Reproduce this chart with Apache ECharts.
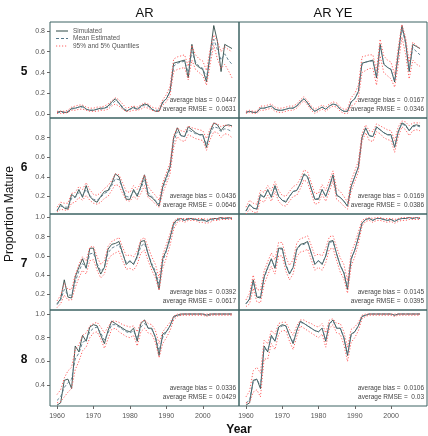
<!DOCTYPE html>
<html><head><meta charset="utf-8">
<script src="https://cdn.jsdelivr.net/npm/echarts@6/dist/echarts.min.js"></script>
<style>html,body{margin:0;padding:0;background:#fff}#c{width:428px;height:436px}</style>
</head><body><div id="c"></div>
<script>
const years = [1960,1961,1962,1963,1964,1965,1966,1967,1968,1969,1970,1971,1972,1973,1974,1975,1976,1977,1978,1979,1980,1981,1982,1983,1984,1985,1986,1987,1988,1989,1990,1991,1992,1993,1994,1995,1996,1997,1998,1999,2000,2001,2002,2003,2004,2005,2006,2007,2008];
const rowNames = ['5','6','7','8'];
const colNames = ['AR','AR YE'];
const legendNames = ['Simulated','Mean Estimated','95% and 5% Quantiles'];
const xTicks = [1960,1970,1980,1990,2000];
const yTicks = [[0,0.2,0.4,0.6,0.8],[0.2,0.4,0.6,0.8],[0.2,0.4,0.6,0.8,1.0],[0.4,0.6,0.8,1.0]];
const yRange = [[-0.034,0.884],[0.02,1.0],[0.035,1.037],[0.223,1.034]];

// Simulated (same in both columns)
const sim5 = [0.02,0.03,0.02,0.02,0.06,0.06,0.07,0.08,0.05,0.04, 0.04,0.05,0.06,0.06,0.08,0.12,0.15,0.11,0.06,0.03, 0.05,0.07,0.05,0.08,0.10,0.09,0.05,0.03,0.03,0.12, 0.15,0.22,0.49,0.50,0.51,0.52,0.35,0.67,0.48,0.45, 0.43,0.31,0.58,0.85,0.70,0.41,0.67,0.65,0.63];
const sim6 = [0.05,0.12,0.08,0.07,0.22,0.19,0.27,0.19,0.31,0.20, 0.16,0.14,0.20,0.25,0.26,0.33,0.43,0.40,0.28,0.17, 0.17,0.27,0.20,0.30,0.42,0.21,0.19,0.15,0.10,0.30, 0.40,0.50,0.80,0.90,0.82,0.81,0.91,0.88,0.85,0.83, 0.83,0.70,0.86,0.95,0.93,0.87,0.92,0.93,0.92];
const sim7 = [0.10,0.15,0.35,0.17,0.16,0.38,0.48,0.57,0.47,0.68, 0.68,0.50,0.41,0.48,0.67,0.72,0.73,0.75,0.63,0.51, 0.55,0.51,0.60,0.75,0.76,0.62,0.50,0.42,0.25,0.57, 0.66,0.79,0.94,0.98,0.99,0.97,0.99,0.99,0.98,0.97, 0.98,0.96,0.98,0.99,0.99,1.00,0.99,1.00,0.99];
const sim8 = [0.23,0.25,0.44,0.45,0.37,0.73,0.68,0.82,0.77,0.89, 0.91,0.90,0.82,0.75,0.86,0.94,0.92,0.90,0.88,0.86, 0.85,0.88,0.77,0.92,0.95,0.88,0.88,0.80,0.65,0.83, 0.85,0.90,0.98,0.99,1.00,1.00,1.00,1.00,1.00,1.00, 1.00,0.99,1.00,1.00,1.00,1.00,1.00,1.00,1.00];

// AR model: mean estimate, 95% and 5% quantiles
const ar5Mean = [0.02,0.02,0.02,0.03,0.05,0.06,0.07,0.07,0.05,0.04, 0.04,0.05,0.05,0.06,0.07,0.10,0.13,0.11,0.07,0.04, 0.05,0.06,0.05,0.07,0.09,0.08,0.05,0.04,0.04,0.11, 0.15,0.22,0.46,0.49,0.50,0.51,0.40,0.60,0.50,0.46, 0.44,0.35,0.55,0.72,0.62,0.52,0.58,0.52,0.48];
const ar5Hi = [0.03,0.03,0.03,0.04,0.07,0.08,0.09,0.09,0.07,0.06, 0.06,0.07,0.07,0.08,0.10,0.13,0.16,0.14,0.10,0.06, 0.07,0.08,0.07,0.09,0.11,0.10,0.07,0.06,0.06,0.14, 0.19,0.27,0.53,0.55,0.56,0.57,0.46,0.66,0.57,0.53, 0.51,0.42,0.62,0.76,0.70,0.60,0.65,0.62,0.60];
const ar5Lo = [0.01,0.01,0.01,0.02,0.04,0.04,0.05,0.05,0.04,0.03, 0.03,0.03,0.04,0.04,0.05,0.08,0.10,0.08,0.05,0.03, 0.03,0.04,0.04,0.05,0.07,0.06,0.04,0.03,0.03,0.09, 0.12,0.18,0.41,0.43,0.44,0.45,0.33,0.52,0.43,0.40, 0.37,0.28,0.48,0.66,0.53,0.44,0.48,0.42,0.35];
const ar6Mean = [0.06,0.10,0.09,0.09,0.18,0.19,0.24,0.21,0.27,0.21, 0.17,0.16,0.19,0.23,0.25,0.31,0.38,0.37,0.28,0.20, 0.19,0.25,0.22,0.28,0.37,0.24,0.20,0.16,0.12,0.28, 0.38,0.48,0.76,0.86,0.82,0.81,0.88,0.86,0.84,0.83, 0.82,0.73,0.84,0.91,0.90,0.86,0.89,0.88,0.86];
const ar6Hi = [0.09,0.14,0.13,0.13,0.23,0.24,0.30,0.27,0.34,0.27, 0.22,0.21,0.24,0.28,0.31,0.36,0.43,0.42,0.34,0.25, 0.24,0.31,0.27,0.34,0.42,0.30,0.25,0.21,0.16,0.34, 0.44,0.54,0.82,0.90,0.87,0.86,0.92,0.90,0.89,0.88, 0.87,0.79,0.89,0.95,0.94,0.91,0.93,0.92,0.91];
const ar6Lo = [0.04,0.07,0.06,0.06,0.13,0.14,0.19,0.16,0.21,0.16, 0.13,0.12,0.14,0.18,0.20,0.26,0.32,0.31,0.23,0.16, 0.15,0.20,0.17,0.23,0.31,0.19,0.16,0.12,0.09,0.23, 0.33,0.43,0.70,0.81,0.77,0.76,0.83,0.81,0.79,0.78, 0.77,0.67,0.78,0.86,0.85,0.80,0.84,0.83,0.80];
const ar7Mean = [0.09,0.14,0.25,0.19,0.19,0.33,0.44,0.52,0.48,0.62, 0.63,0.52,0.44,0.48,0.63,0.68,0.70,0.72,0.62,0.53, 0.54,0.52,0.58,0.70,0.73,0.62,0.52,0.44,0.30,0.54, 0.65,0.77,0.92,0.97,0.98,0.97,0.98,0.98,0.98,0.97, 0.97,0.96,0.97,0.98,0.98,0.99,0.99,0.99,0.99];
const ar7Hi = [0.13,0.19,0.31,0.25,0.25,0.40,0.51,0.59,0.55,0.69, 0.70,0.59,0.51,0.55,0.70,0.75,0.77,0.79,0.69,0.60, 0.61,0.59,0.65,0.77,0.79,0.69,0.59,0.51,0.37,0.61, 0.72,0.83,0.96,0.99,0.99,0.99,0.99,0.99,0.99,0.99, 0.99,0.98,0.99,0.99,0.99,1.00,1.00,1.00,1.00];
const ar7Lo = [0.06,0.10,0.19,0.14,0.14,0.27,0.37,0.45,0.41,0.55, 0.56,0.45,0.37,0.41,0.56,0.61,0.63,0.65,0.55,0.46, 0.47,0.45,0.51,0.63,0.66,0.55,0.45,0.37,0.24,0.47, 0.58,0.71,0.88,0.95,0.97,0.95,0.97,0.97,0.97,0.95, 0.95,0.94,0.95,0.97,0.97,0.98,0.98,0.98,0.98];
const ar8Mean = [0.27,0.30,0.38,0.42,0.45,0.62,0.67,0.76,0.78,0.85, 0.88,0.89,0.84,0.78,0.84,0.91,0.91,0.89,0.87,0.85, 0.84,0.86,0.79,0.89,0.92,0.88,0.87,0.81,0.69,0.80, 0.85,0.90,0.97,0.99,0.99,1.00,1.00,1.00,1.00,1.00, 1.00,0.99,0.99,1.00,1.00,1.00,1.00,1.00,1.00];
const ar8Hi = [0.32,0.36,0.46,0.52,0.55,0.70,0.74,0.82,0.84,0.90, 0.92,0.93,0.89,0.84,0.89,0.94,0.94,0.93,0.91,0.90, 0.89,0.90,0.85,0.93,0.95,0.92,0.91,0.86,0.75,0.85, 0.89,0.93,0.98,1.00,1.00,1.00,1.00,1.00,1.00,1.00, 1.00,1.00,1.00,1.00,1.00,1.00,1.00,1.00,1.00];
const ar8Lo = [0.25,0.26,0.30,0.34,0.37,0.53,0.60,0.69,0.72,0.80, 0.84,0.85,0.79,0.71,0.79,0.87,0.88,0.85,0.83,0.81, 0.80,0.82,0.73,0.85,0.88,0.84,0.83,0.76,0.63,0.75, 0.80,0.86,0.95,0.98,0.99,0.99,0.99,0.99,0.99,0.99, 0.99,0.98,0.99,0.99,0.99,0.99,0.99,0.99,0.99];

// AR YE model
const ye5Mean = [0.02,0.03,0.02,0.02,0.06,0.06,0.07,0.08,0.05,0.04, 0.04,0.05,0.06,0.06,0.08,0.12,0.15,0.11,0.06,0.03, 0.05,0.07,0.05,0.08,0.10,0.09,0.05,0.03,0.03,0.12, 0.15,0.22,0.48,0.50,0.51,0.51,0.36,0.65,0.49,0.45, 0.43,0.32,0.57,0.83,0.68,0.43,0.64,0.60,0.57];
const ye5Hi = [0.03,0.04,0.03,0.03,0.08,0.08,0.09,0.10,0.07,0.06, 0.06,0.07,0.08,0.08,0.10,0.14,0.17,0.13,0.08,0.05, 0.07,0.09,0.07,0.10,0.12,0.11,0.07,0.05,0.05,0.16, 0.20,0.28,0.55,0.56,0.57,0.57,0.42,0.72,0.56,0.52, 0.50,0.38,0.64,0.86,0.74,0.50,0.69,0.66,0.63];
const ye5Lo = [0.01,0.02,0.01,0.01,0.04,0.04,0.05,0.06,0.03,0.02, 0.02,0.03,0.04,0.04,0.06,0.10,0.13,0.09,0.04,0.01, 0.03,0.05,0.03,0.06,0.08,0.07,0.03,0.01,0.01,0.08, 0.10,0.16,0.40,0.42,0.44,0.44,0.28,0.56,0.40,0.37, 0.34,0.26,0.48,0.74,0.58,0.34,0.52,0.48,0.46];
const ye6Mean = [0.05,0.11,0.08,0.07,0.21,0.19,0.26,0.20,0.30,0.20, 0.16,0.15,0.20,0.25,0.26,0.33,0.42,0.39,0.28,0.17, 0.18,0.27,0.20,0.30,0.41,0.22,0.19,0.15,0.10,0.30, 0.40,0.50,0.80,0.89,0.82,0.81,0.90,0.88,0.85,0.83, 0.82,0.71,0.86,0.94,0.92,0.87,0.91,0.92,0.91];
const ye6Hi = [0.09,0.16,0.13,0.12,0.26,0.24,0.31,0.26,0.35,0.26, 0.21,0.20,0.25,0.30,0.32,0.38,0.47,0.45,0.34,0.23, 0.23,0.32,0.26,0.36,0.46,0.28,0.25,0.20,0.14,0.36, 0.46,0.56,0.84,0.93,0.87,0.86,0.94,0.92,0.90,0.88, 0.87,0.77,0.91,0.97,0.96,0.92,0.95,0.95,0.95];
const ye6Lo = [0.02,0.07,0.04,0.03,0.16,0.14,0.21,0.15,0.25,0.15, 0.11,0.10,0.15,0.20,0.21,0.28,0.37,0.34,0.23,0.12, 0.13,0.22,0.15,0.25,0.36,0.17,0.14,0.10,0.07,0.25, 0.35,0.45,0.76,0.85,0.77,0.76,0.86,0.84,0.80,0.78, 0.77,0.65,0.81,0.91,0.88,0.82,0.87,0.88,0.87];
const ye7Mean = [0.10,0.15,0.33,0.18,0.17,0.37,0.47,0.56,0.48,0.67, 0.67,0.51,0.42,0.48,0.66,0.71,0.72,0.74,0.63,0.52, 0.55,0.52,0.60,0.74,0.75,0.62,0.50,0.43,0.27,0.56, 0.66,0.79,0.94,0.98,0.99,0.97,0.99,0.99,0.98,0.97, 0.98,0.96,0.98,0.99,0.99,1.00,0.99,1.00,0.99];
const ye7Hi = [0.14,0.21,0.40,0.25,0.24,0.44,0.54,0.63,0.56,0.74, 0.74,0.59,0.50,0.56,0.73,0.78,0.79,0.81,0.71,0.60, 0.62,0.60,0.68,0.80,0.81,0.69,0.58,0.51,0.34,0.63, 0.73,0.85,0.97,0.99,1.00,0.99,1.00,1.00,0.99,0.99, 0.99,0.98,0.99,1.00,1.00,1.00,1.00,1.00,1.00];
const ye7Lo = [0.07,0.10,0.26,0.12,0.11,0.30,0.40,0.49,0.41,0.60, 0.60,0.44,0.35,0.41,0.59,0.64,0.65,0.67,0.56,0.45, 0.48,0.45,0.53,0.67,0.68,0.55,0.43,0.36,0.21,0.49, 0.59,0.73,0.91,0.96,0.97,0.95,0.97,0.97,0.96,0.95, 0.96,0.94,0.96,0.97,0.97,0.98,0.98,0.98,0.98];
const ye8Mean = [0.25,0.27,0.43,0.45,0.39,0.71,0.69,0.81,0.77,0.88, 0.90,0.90,0.82,0.76,0.86,0.93,0.92,0.90,0.88,0.86, 0.85,0.88,0.78,0.92,0.94,0.88,0.88,0.80,0.66,0.82, 0.85,0.90,0.98,0.99,1.00,1.00,1.00,1.00,1.00,1.00, 1.00,0.99,1.00,1.00,1.00,1.00,1.00,1.00,1.00];
const ye8Hi = [0.30,0.35,0.52,0.55,0.50,0.78,0.75,0.86,0.83,0.92, 0.93,0.93,0.87,0.82,0.90,0.95,0.95,0.93,0.92,0.90, 0.89,0.92,0.84,0.95,0.96,0.92,0.92,0.85,0.72,0.87, 0.89,0.93,0.99,1.00,1.00,1.00,1.00,1.00,1.00,1.00, 1.00,1.00,1.00,1.00,1.00,1.00,1.00,1.00,1.00];
const ye8Lo = [0.25,0.25,0.34,0.36,0.30,0.62,0.62,0.75,0.70,0.83, 0.86,0.86,0.77,0.70,0.81,0.90,0.88,0.86,0.84,0.82, 0.80,0.83,0.72,0.88,0.91,0.84,0.83,0.74,0.60,0.76, 0.80,0.86,0.96,0.98,0.99,0.99,0.99,0.99,0.99,0.99, 0.99,0.98,0.99,0.99,0.99,0.99,0.99,0.99,0.99];

const biasAR = ['0.0447','0.0436','0.0392','0.0336'];
const rmseAR = ['0.0631','0.0646','0.0617','0.0429'];
const biasYE = ['0.0167','0.0169','0.0145','0.0106'];
const rmseYE = ['0.0346','0.0386','0.0395','0.03'];

const sims = [sim5, sim6, sim7, sim8];
const model = [
  [[ar5Mean,ar5Hi,ar5Lo],[ar6Mean,ar6Hi,ar6Lo],[ar7Mean,ar7Hi,ar7Lo],[ar8Mean,ar8Hi,ar8Lo]],
  [[ye5Mean,ye5Hi,ye5Lo],[ye6Mean,ye6Hi,ye6Lo],[ye7Mean,ye7Hi,ye7Lo],[ye8Mean,ye8Hi,ye8Lo]]
];
const biasAll = [biasAR, biasYE], rmseAll = [rmseAR, rmseYE];

const FONT = '"Liberation Sans", Arial, sans-serif';
const colLeft = [50, 239], colW = [189, 188], top0 = 22, rowH = 96;
const borderCol = '#3d6262';
const simCol = '#2f4a46', meanCol = '#56788a', qCol = '#ff6262';
const simDash = null, meanDash = [3, 2], qDash = [1.2, 1.8];

const grid = [], xAxis = [], yAxis = [], series = [], graphic = [];
const pairs = arr => years.map((y, i) => [y, arr[i]]);
let gi = 0;
for (let r = 0; r < 4; r++) {
  for (let c = 0; c < 2; c++) {
    const left = colLeft[c], top = top0 + r * rowH, w = colW[c];
    grid.push({left, top, width: w, height: rowH, show: true, borderColor: borderCol, borderWidth: 1, backgroundColor: 'transparent'});
    const bottom = r === 3;
    xAxis.push({type: 'value', gridIndex: gi, min: 1958.08, max: 2009.92,
      axisLine: {show: false}, splitLine: {show: false},
      axisTick: {show: bottom, length: 3, customValues: xTicks, lineStyle: {color: '#666', width: 1}},
      axisLabel: {show: bottom, customValues: xTicks, fontSize: 7, color: '#555', fontFamily: FONT, margin: 7,
        formatter: v => String(Math.round(v))}});
    yAxis.push({type: 'value', gridIndex: gi, min: yRange[r][0], max: yRange[r][1],
      axisLine: {show: false}, splitLine: {show: false},
      axisTick: {show: c === 0, length: 3, customValues: yTicks[r], lineStyle: {color: '#666', width: 1}},
      axisLabel: {show: c === 0, customValues: yTicks[r], fontSize: 7, color: '#555', fontFamily: FONT, margin: 5,
        formatter: v => v.toFixed(1)}});
    const [mean, hi, lo] = model[c][r];
    const base = {type: 'line', xAxisIndex: gi, yAxisIndex: gi, symbol: 'none', showSymbol: false, silent: true, animation: false};
    series.push(Object.assign({}, base, {name: legendNames[0], data: pairs(sims[r]), lineStyle: {color: simCol, width: 0.9}, z: 3}));
    series.push(Object.assign({}, base, {name: legendNames[1], data: pairs(mean), lineStyle: {color: meanCol, width: 0.9, type: meanDash}, z: 4}));
    series.push(Object.assign({}, base, {name: legendNames[2], data: pairs(hi), lineStyle: {color: qCol, width: 1, type: qDash}, z: 5}));
    series.push(Object.assign({}, base, {name: legendNames[2], data: pairs(lo), lineStyle: {color: qCol, width: 1, type: qDash}, z: 5}));
    graphic.push({type: 'text', x: left + w - 3, y: top + rowH - 4, silent: true,
      style: {text: 'average bias =  ' + biasAll[c][r] + '\naverage RMSE =  ' + rmseAll[c][r],
        textAlign: 'right', textVerticalAlign: 'bottom', fill: '#444', font: '6.5px ' + FONT, lineHeight: 9}});
    gi++;
  }
}
// legend (drawn as sample lines + text in the first panel)
const legendStyles = [[simCol, simDash], [meanCol, meanDash], [qCol, qDash]];
legendNames.forEach((t, i) => {
  const y = 31 + i * 7.5;
  graphic.push({type: 'line', silent: true, shape: {x1: 56, y1: y, x2: 68, y2: y},
    style: {stroke: legendStyles[i][0], lineWidth: 1, lineDash: legendStyles[i][1]}});
  graphic.push({type: 'text', x: 73, y: y, silent: true,
    style: {text: t, textAlign: 'left', textVerticalAlign: 'middle', fill: '#555', font: '6.5px ' + FONT}});
});
// column titles
colNames.forEach((t, c) => graphic.push({type: 'text', x: colLeft[c] + colW[c] / 2, y: 13, silent: true,
  style: {text: t, textAlign: 'center', textVerticalAlign: 'middle', fill: '#111', font: '13px ' + FONT}}));
// row labels
rowNames.forEach((t, r) => graphic.push({type: 'text', x: 24, y: top0 + r * rowH + rowH / 2 + 2, silent: true,
  style: {text: t, textAlign: 'center', textVerticalAlign: 'middle', fill: '#111', font: 'bold 12px ' + FONT}}));
graphic.push({type: 'text', x: 10, y: 214, rotation: Math.PI / 2, silent: true,
  style: {text: 'Proportion Mature', textAlign: 'center', textVerticalAlign: 'middle', fill: '#111', font: '12px ' + FONT}});
graphic.push({type: 'text', x: 239, y: 430, silent: true,
  style: {text: 'Year', textAlign: 'center', textVerticalAlign: 'middle', fill: '#111', font: 'bold 12px ' + FONT}});

const chart = echarts.init(document.getElementById('c'), null, {renderer: 'canvas'});
chart.setOption({
  animation: false,
  backgroundColor: '#fff',
  grid, xAxis, yAxis, series, graphic
});
</script></body></html>
